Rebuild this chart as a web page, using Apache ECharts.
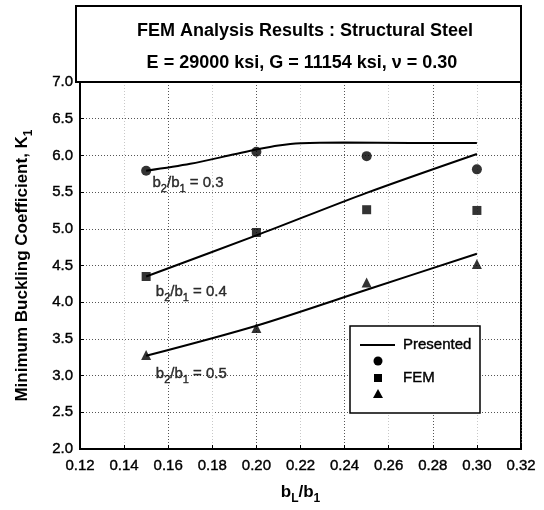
<!DOCTYPE html>
<html>
<head>
<meta charset="utf-8">
<script src="https://cdn.jsdelivr.net/npm/echarts@6/dist/echarts.min.js"></script>
<style>html,body{margin:0;padding:0;background:#fff}#c{width:544px;height:510px}</style>
</head>
<body>
<div id="c"></div>
<script>
// ---- data ----
const titleLines = ['FEM Analysis Results : Structural Steel', 'E = 29000 ksi, G = 11154 ksi, \u03bd = 0.30'];
const xFem = [0.15, 0.20, 0.25, 0.30];
const femR03 = [5.79, 6.05, 5.99, 5.81];
const femR04 = [4.35, 4.95, 5.26, 5.25];
const femR05 = [3.28, 3.65, 4.27, 4.52];
const curveR03X = [0.15, 0.17, 0.19, 0.20, 0.21, 0.22, 0.24, 0.27, 0.30];
const curveR03Y = [5.79, 5.885, 6.015, 6.08, 6.135, 6.165, 6.175, 6.17, 6.17];
const curveR04X = [0.15, 0.20, 0.25, 0.30];
const curveR04Y = [4.35, 4.91, 5.49, 6.02];
const curveR05X = [0.15, 0.20, 0.25, 0.30];
const curveR05Y = [3.27, 3.68, 4.17, 4.66];
const ratioLabels = ['0.3', '0.4', '0.5'];
const ratioLabelX = [0.169, 0.1705, 0.1705];
const ratioLabelY = [5.62, 4.14, 3.02];
const legendLabels = ['Presented', 'FEM'];

const pairs = (xs, ys) => xs.map((x, i) => [x, ys[i]]);
const FONT = 'Liberation Sans, Arial, sans-serif';
const subRich = (size, bold) => ({
  m: {fontSize: size, fontWeight: bold ? 'bold' : 'normal', fontFamily: FONT, color: '#000', lineHeight: size + 8, verticalAlign: 'middle',
      textBorderColor: '#000', textBorderWidth: bold ? 0 : 0.4},
  s: {fontSize: Math.round(size * 0.72), fontWeight: bold ? 'bold' : 'normal', fontFamily: FONT, color: '#000', verticalAlign: 'bottom', lineHeight: size + 8,
      textBorderColor: '#000', textBorderWidth: bold ? 0 : 0.4}
});

const chart = echarts.init(document.getElementById('c'));
const markerStyle = {color: '#000'};
const tickLabel = {color: '#000', fontSize: 15, fontFamily: FONT, textBorderColor: '#000', textBorderWidth: 0.4};
const option = {
  animation: false,
  backgroundColor: '#fff',
  grid: {left: 80, right: 23, top: 82, bottom: 56, show: true, borderColor: '#000', borderWidth: 2},
  xAxis: {
    type: 'value', min: 0.12, max: 0.32, interval: 0.02,
    name: '{m|b}{s|L}{m|/b}{s|1}', nameLocation: 'middle', nameGap: 31,
    nameTextStyle: {rich: subRich(17, true)},
    axisLine: {show: true, lineStyle: {color: '#000', width: 2}},
    axisTick: {show: true, inside: true, length: 4, lineStyle: {color: '#000'}},
    axisLabel: Object.assign({formatter: v => v.toFixed(2), margin: 9}, tickLabel),
    splitLine: {show: true, lineStyle: {color: ['#555', '#c8c8c8'], type: [1, 2], width: 1}}
  },
  yAxis: {
    type: 'value', min: 2, max: 7, interval: 0.5,
    name: '{m|Minimum Buckling Coefficient, K}{s|1}', nameLocation: 'middle', nameGap: 45, nameRotate: 90,
    nameTextStyle: {rich: subRich(17, true)},
    axisLine: {show: true, lineStyle: {color: '#000', width: 2}},
    axisTick: {show: true, inside: true, length: 4, lineStyle: {color: '#000'}},
    axisLabel: Object.assign({formatter: v => v.toFixed(1), margin: 7}, tickLabel),
    splitLine: {show: true, lineStyle: {color: '#555', type: [1, 2], width: 1}}
  },
  series: [
    {type: 'line', data: pairs(curveR03X, curveR03Y), smooth: 0.3, showSymbol: false, lineStyle: {color: '#000', width: 2}},
    {type: 'line', data: pairs(curveR04X, curveR04Y), smooth: 0.3, showSymbol: false, lineStyle: {color: '#000', width: 2}},
    {type: 'line', data: pairs(curveR05X, curveR05Y), smooth: 0.3, showSymbol: false, lineStyle: {color: '#000', width: 2}},
    {type: 'scatter', data: pairs(xFem, femR03), symbol: 'circle', symbolSize: 10, itemStyle: markerStyle, z: 5},
    {type: 'scatter', data: pairs(xFem, femR04), symbol: 'rect', symbolSize: 9, itemStyle: markerStyle, z: 5},
    {type: 'scatter', data: pairs(xFem, femR05), symbol: 'triangle', symbolSize: 10, itemStyle: markerStyle, z: 5},
    {type: 'scatter', symbolSize: 0, silent: true,
     data: ratioLabels.map((r, i) => ({value: [ratioLabelX[i], ratioLabelY[i]], name: r})),
     label: {show: true, position: 'inside', color: '#000',
       formatter: p => '{m|b}{s|2}{m|/b}{s|1}{m| = ' + p.name + '}', rich: subRich(15, false)}}
  ],
  graphic: [
    {type: 'rect', shape: {x: 76, y: 6, width: 445, height: 76}, style: {fill: '#fff', stroke: '#000', lineWidth: 2}, z: 10},
    {type: 'text', x: 305, y: 31, style: {text: titleLines[0], font: 'bold 18px ' + FONT, fill: '#000', textAlign: 'center', textVerticalAlign: 'middle'}, z: 11},
    {type: 'text', x: 302, y: 63, style: {text: titleLines[1], font: 'bold 18px ' + FONT, fill: '#000', textAlign: 'center', textVerticalAlign: 'middle'}, z: 11},
    {type: 'rect', shape: {x: 350, y: 326, width: 130, height: 87}, style: {fill: '#fff', stroke: '#000', lineWidth: 1.5}, z: 10},
    {type: 'line', shape: {x1: 360, y1: 345, x2: 395, y2: 345}, style: {stroke: '#000', lineWidth: 2}, z: 11},
    {type: 'text', x: 403, y: 345, style: {text: legendLabels[0], font: '15px ' + FONT, fill: '#000', stroke: '#000', lineWidth: 0.4, textVerticalAlign: 'middle'}, z: 11},
    {type: 'circle', shape: {cx: 378, cy: 361, r: 4.5}, style: {fill: '#000'}, z: 11},
    {type: 'rect', shape: {x: 374, y: 374, width: 8, height: 8}, style: {fill: '#000'}, z: 11},
    {type: 'polygon', shape: {points: [[378, 389], [373, 398], [383, 398]]}, style: {fill: '#000'}, z: 11},
    {type: 'text', x: 403, y: 378, style: {text: legendLabels[1], font: '15px ' + FONT, fill: '#000', stroke: '#000', lineWidth: 0.4, textVerticalAlign: 'middle'}, z: 11}
  ]
};
chart.setOption(option);
</script>
</body>
</html>
